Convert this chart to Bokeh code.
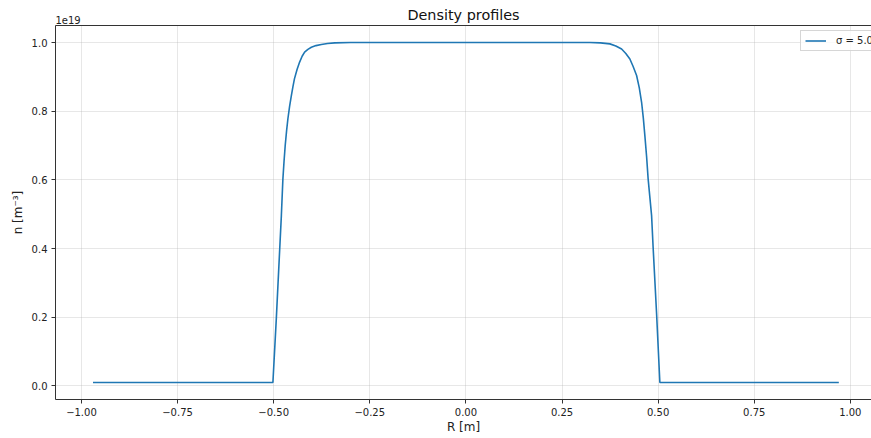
from bokeh.plotting import figure
from bokeh.models import Range1d, FixedTicker, LinearAxis
from bokeh.embed import file_html
from bokeh.resources import INLINE

# ---- data (density in units of 1e19 m^-3) ----
r_m = [-0.97, -0.502, -0.493, -0.4845, -0.480, -0.476, -0.473, -0.470, -0.4665, -0.463,
       -0.4585, -0.454, -0.450, -0.446, -0.439, -0.4325, -0.426, -0.4195, -0.411, -0.402,
       -0.390, -0.376, -0.360, -0.341, -0.30,
       0.30, 0.3225, 0.350, 0.3745, 0.390, 0.405, 0.416, 0.4265, 0.435, 0.444,
       0.451, 0.457, 0.4615, 0.4655, 0.470, 0.474, 0.483, 0.487, 0.496, 0.5045, 0.97]
n_1e19 = [0.01, 0.01, 0.199, 0.394, 0.496, 0.603, 0.655, 0.70, 0.742, 0.778,
          0.815, 0.845, 0.871, 0.894, 0.922, 0.943, 0.960, 0.972, 0.980, 0.986,
          0.991, 0.994, 0.997, 0.999, 1.0,
          1.0, 1.0, 0.999, 0.996, 0.990, 0.981, 0.968, 0.952, 0.930, 0.904,
          0.868, 0.826, 0.780, 0.729, 0.668, 0.603, 0.496, 0.403, 0.21, 0.01, 0.01]
series_label = "σ = 5.0"
offset_text = "1e19"
title_text = "Density profiles"
x_label = "R [m]"
y_label = "n [m\u207b\u00b3]"

x_ticks = [-1.0, -0.75, -0.5, -0.25, 0.0, 0.25, 0.5, 0.75, 1.0]
x_tick_labels = ["\u22121.00", "\u22120.75", "\u22120.50", "\u22120.25", "0.00", "0.25", "0.50", "0.75", "1.00"]
y_ticks = [0.0, 0.2, 0.4, 0.6, 0.8, 1.0]
y_tick_labels = ["0.0", "0.2", "0.4", "0.6", "0.8", "1.0"]

FONT = "DejaVu Sans"
TXT = "#222222"
X0, X1 = -1.0675, 1.055
OFFSET_POS = -1.035  # where the "1e19" offset text sits along the top edge

p = figure(width=871, height=438, output_backend="svg", toolbar_location=None,
           x_range=Range1d(X0, X1), y_range=Range1d(-0.0395, 1.0495),
           min_border_left=55, min_border_right=0, min_border_top=25, min_border_bottom=39)
p.outline_line_color = None
p.background_fill_color = "white"
p.border_fill_color = "white"

p.line(r_m, n_1e19, line_color="#1f77b4", line_width=1.6, legend_label=series_label)

for ax in (p.xaxis[0], p.yaxis[0]):
    ax.axis_line_color = "#333333"
    ax.axis_line_width = 1
    ax.major_tick_line_color = "#333333"
    ax.major_tick_out = 4
    ax.major_tick_in = 0
    ax.minor_tick_line_color = None
    ax.major_label_text_font = FONT
    ax.major_label_text_font_size = "10px"
    ax.major_label_text_color = TXT
    ax.major_label_standoff = 4
    ax.axis_label_text_font = FONT
    ax.axis_label_text_font_size = "12px"
    ax.axis_label_text_font_style = "normal"
    ax.axis_label_text_color = TXT

p.xaxis.ticker = FixedTicker(ticks=x_ticks)
p.xaxis.major_label_overrides = {t: s for t, s in zip(x_ticks, x_tick_labels)}
p.yaxis.ticker = FixedTicker(ticks=y_ticks)
p.yaxis.major_label_overrides = {t: s for t, s in zip(y_ticks, y_tick_labels)}

p.xaxis.axis_label = x_label
p.xaxis.axis_label_standoff = 1
p.yaxis.axis_label = y_label
p.yaxis.axis_label_standoff = 4

# top spine + offset text + title, all on one axis placed above
top = LinearAxis(ticker=FixedTicker(ticks=[OFFSET_POS]),
                 major_label_overrides={OFFSET_POS: offset_text},
                 axis_label=title_text)
top.axis_line_color = "#333333"
top.axis_line_width = 1
top.major_tick_line_color = None
top.major_tick_out = 0
top.major_tick_in = 0
top.minor_tick_line_color = None
top.major_label_standoff = 2
top.major_label_text_font = FONT
top.major_label_text_font_size = "10px"
top.major_label_text_color = TXT
top.axis_label_standoff = -10
top.axis_label_text_font = FONT
top.axis_label_text_font_size = "14.4px"
top.axis_label_text_font_style = "normal"
top.axis_label_text_color = "#111111"
p.add_layout(top, "above")

p.xgrid.grid_line_color = "#b0b0b0"
p.xgrid.grid_line_alpha = 0.3
p.ygrid.grid_line_color = "#b0b0b0"
p.ygrid.grid_line_alpha = 0.3

lg = p.legend[0]
lg.location = (745, 348)
lg.margin = 0
lg.padding = 4
lg.spacing = 0
lg.glyph_width = 21
lg.glyph_height = 11
lg.label_height = 11
lg.label_standoff = 10
lg.label_text_font = FONT
lg.label_text_font_size = "10px"
lg.label_text_color = TXT
lg.border_line_color = "#cccccc"
lg.border_line_alpha = 0.8
lg.background_fill_alpha = 0.8

open("out.html", "w").write(file_html(p, INLINE))
